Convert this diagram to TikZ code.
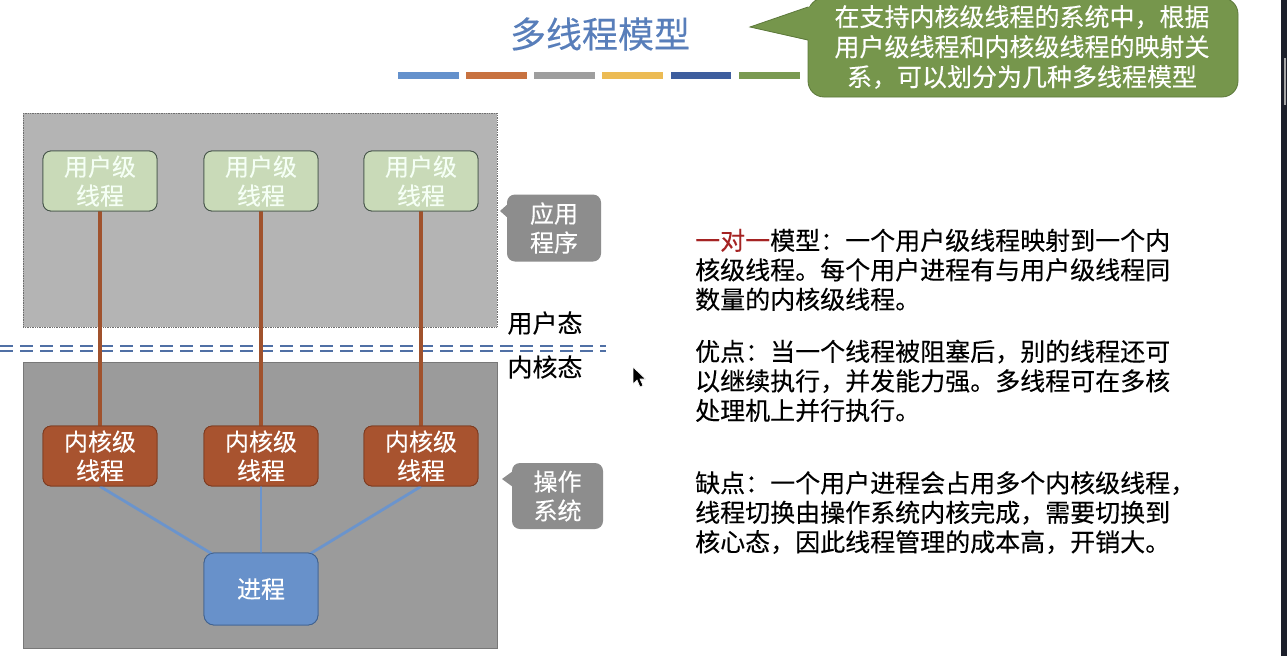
\documentclass[tikz,border=0pt]{standalone}
\usepackage{fontspec}
\setmainfont{Noto Sans CJK SC}[FakeBold=0.25,AutoFakeBold=0.25]
\usetikzlibrary{calc}
\definecolor{titleblue}{RGB}{88,126,186}
\definecolor{barA}{RGB}{100,145,204}
\definecolor{barB}{RGB}{200,114,64}
\definecolor{barC}{RGB}{158,158,158}
\definecolor{barD}{RGB}{236,187,84}
\definecolor{barE}{RGB}{62,94,158}
\definecolor{barF}{RGB}{122,154,82}
\definecolor{callgreen}{RGB}{118,150,76}
\definecolor{callborder}{RGB}{92,120,58}
\definecolor{appbg}{RGB}{180,180,180}
\definecolor{appborder}{RGB}{110,110,110}
\definecolor{kernbg}{RGB}{155,155,155}
\definecolor{kernborder}{RGB}{120,120,120}
\definecolor{usergreen}{RGB}{201,218,184}
\definecolor{userborder}{RGB}{70,84,74}
\definecolor{kernfill}{RGB}{168,83,47}
\definecolor{kernline}{RGB}{125,59,32}
\definecolor{procfill}{RGB}{104,145,202}
\definecolor{procborder}{RGB}{65,98,143}
\definecolor{brownline}{RGB}{160,82,45}
\definecolor{blueline}{RGB}{107,148,204}
\definecolor{sidegray}{RGB}{141,141,141}
\definecolor{dashblue}{RGB}{80,112,165}
\definecolor{redtext}{RGB}{165,35,35}
\definecolor{stripdark}{RGB}{28,31,42}
\begin{document}
\begin{tikzpicture}[x=1pt,y=-1pt,
  boxtext/.style={align=center,text=white,inner sep=0pt,font=\fontsize{24}{29}\selectfont},
  ubox/.style={boxtext,draw=userborder,fill=usergreen,rounded corners=8pt,minimum width=114pt,minimum height=60pt,line width=0.8pt,text=white!96!green},
  kbox/.style={boxtext,draw=kernline,fill=kernfill,rounded corners=8pt,minimum width=114pt,minimum height=60pt,line width=0.8pt},
  pbox/.style={boxtext,draw=procborder,fill=procfill,rounded corners=10pt,minimum width=114pt,minimum height=72pt,line width=0.8pt},
  sidebox/.style={boxtext,fill=sidegray,rounded corners=8pt,minimum width=94pt,minimum height=67pt},
  brownconn/.style={draw=brownline,line width=3.2pt},
  blueconn/.style={draw=blueline,line width=2.8pt},
  dline/.style={draw=dashblue,line width=2pt,dash pattern=on 13pt off 7pt},
  bodytext/.style={anchor=north west,align=left,inner sep=0pt,font=\fontsize{25}{29.5}\selectfont,text=black},
]
\useasboundingbox (0,0) rectangle (1287,656);
\fill[white] (0,0) rectangle (1287,656);

% title and colour bars
\node[font=\fontsize{36}{40}\selectfont,text=titleblue,inner sep=0pt] (title) at (600,34) {多线程模型};
\fill[barA] (398,72) rectangle (459,79);
\fill[barB] (466,72) rectangle (527,79);
\fill[barC] (534,72) rectangle (595,79);
\fill[barD] (602,72) rectangle (663,79);
\fill[barE] (671,72) rectangle (731,79);
\fill[barF] (739,72) rectangle (800,79);

% green callout
\filldraw[fill=callgreen,draw=callborder,line width=0.8pt,rounded corners=16pt] (808,-2) rectangle (1238,97);
\fill[callgreen] (811,6) -- (750,27) -- (811,41) -- cycle;
\draw[callborder,line width=0.8pt] (808,7) -- (750,27) -- (808,40);
\node[align=center,text=white,inner sep=0pt,font=\fontsize{25}{30}\selectfont] (note) at (1022,47)
  {在支持内核级线程的系统中，根据\\用户级线程和内核级线程的映射关\\系，可以划分为几种多线程模型};

% user space / kernel space areas
\filldraw[fill=appbg,draw=appborder,densely dotted,line width=0.7pt] (23,113) rectangle (497,327);
\filldraw[fill=kernbg,draw=kernborder,line width=0.7pt] (23,362) rectangle (497,648);

% double dashed separator
\coordinate (sepL1) at (0,346);
\coordinate (sepR1) at (606,346);
\coordinate (sepL2) at (0,350.5);
\coordinate (sepR2) at (606,350.5);
\draw[dline] (sepL1) -- (sepR1);
\draw[dline] (sepL2) -- (sepR2);

% nodes
\node[ubox] (u1) at (100,181) {用户级\\线程};
\node[ubox] (u2) at (261,181) {用户级\\线程};
\node[ubox] (u3) at (421,181) {用户级\\线程};
\node[kbox] (k1) at (100,456) {内核级\\线程};
\node[kbox] (k2) at (261,456) {内核级\\线程};
\node[kbox] (k3) at (421,456) {内核级\\线程};
\node[pbox] (p) at (261,589) {进程};

% connectors
\draw[brownconn] (u1.south) -- (k1.north);
\draw[brownconn] (u2.south) -- (k2.north);
\draw[brownconn] (u3.south) -- (k3.north);
\draw[blueconn] (k1.south) -- ([xshift=8pt,yshift=-1pt]p.north west);
\draw[blueconn] (k2.south) -- (p.north);
\draw[blueconn] (k3.south) -- ([xshift=-8pt,yshift=-1pt]p.north east);
% redraw nodes above connectors
\node[ubox] at (100,181) {用户级\\线程};
\node[ubox] at (261,181) {用户级\\线程};
\node[ubox] at (421,181) {用户级\\线程};
\node[kbox] at (100,456) {内核级\\线程};
\node[kbox] at (261,456) {内核级\\线程};
\node[kbox] at (421,456) {内核级\\线程};
\node[pbox] at (261,589) {进程};

% side callouts
\fill[sidegray] (509,203) -- (500,211) -- (509,219) -- cycle;
\node[sidebox] (appl) at (554,228) {应用\\程序};
\fill[sidegray] (513,471) -- (502,479) -- (513,487) -- cycle;
\node[sidebox,minimum width=91pt,minimum height=66pt] (os) at (557.5,496) {操作\\系统};

% mode labels
\node[inner sep=0pt,font=\fontsize{25}{29}\selectfont] (ustate) at (545,323) {用户态};
\node[inner sep=0pt,font=\fontsize{25}{29}\selectfont] (kstate) at (545,367) {内核态};

% mouse cursor
\filldraw[fill=black,draw=white,line width=0.6pt] (633,367) -- (633,384) -- (637,380) -- (640,387) -- (643,385.5) -- (640,379) -- (645.5,379) -- cycle;

% explanatory text
\node[bodytext] (para1) at (695,228.5)
  {\textcolor{redtext}{一对一}模型：一个用户级线程映射到一个内\\核级线程。每个用户进程有与用户级线程同\\数量的内核级线程。};
\node[bodytext] (para2) at (695,339.5)
  {优点：当一个线程被阻塞后，别的线程还可\\以继续执行，并发能力强。多线程可在多核\\处理机上并行执行。};
\node[bodytext] (para3) at (695,471)
  {缺点：一个用户进程会占用多个内核级线程，\\线程切换由操作系统内核完成，需要切换到\\核心态，因此线程管理的成本高，开销大。};

% right window edge
\fill[stripdark] (1281,0) rectangle (1287,656);
\fill[gray!70] (1284,58) rectangle (1286,105);
\end{tikzpicture}
\end{document}
